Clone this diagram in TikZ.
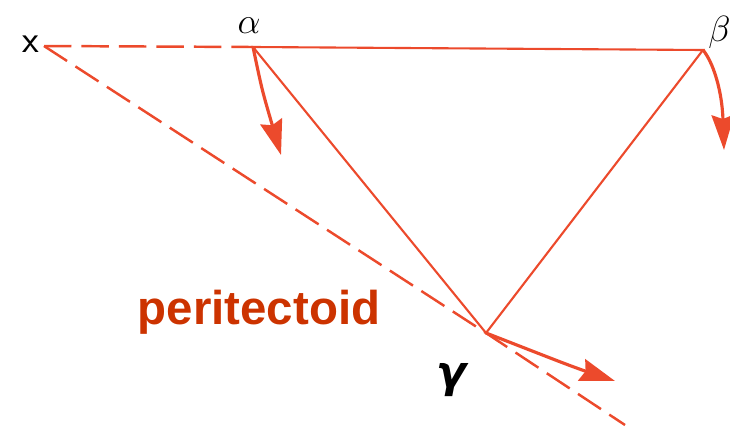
\documentclass[tikz,border=0pt]{standalone}
\usepackage{amsmath}
\usepackage{fontspec}
\newfontfamily\labelfont{Liberation Sans}
\newfontfamily\greekfont{DejaVu Sans}
\usetikzlibrary{arrows.meta}

\definecolor{phaseline}{RGB}{236,74,44}
\definecolor{tagred}{RGB}{204,51,0}

\tikzset{
  tieline/.style={draw=phaseline, line width=1.2pt},
  boundary/.style={draw=phaseline, line width=1.4pt, dash pattern=on 0.55cm off 0.2cm},
  shift arrow/.style={draw=phaseline, line width=1.8pt,
    -{Stealth[length=0.7cm, width=0.45cm, inset=0.08cm]}},
  phase/.style={inner sep=0pt, font=\fontsize{22}{26}\selectfont},
}

\begin{document}
\begin{tikzpicture}[x=0.02cm, y=-0.02cm]
  \useasboundingbox (0,0) rectangle (730,433);

  % Corners of the tie triangle
  \coordinate (x) at (44,46);
  \coordinate (alpha) at (253,47);
  \coordinate (beta) at (703,50);
  \coordinate (gamma) at (486,333);
  \coordinate (tail) at (625,425);

  % Arrow ends
  \coordinate (alphaend) at (281,155);
  \coordinate (betaend) at (724,150);
  \coordinate (gammaend) at (615,381);

  % Labels
  \node[phase] (xlab) at (31,44) {\textsf{x}};
  \node[phase] (alab) at (249,26) {$\alpha$};
  \node[phase, anchor=west] (blab) at (708,32) {$\beta$};
  \node[phase, font=\greekfont\bfseries\itshape\fontsize{25}{30}\selectfont] (glab) at (451,380) {γ};
  \node[text=tagred, font=\labelfont\bfseries\fontsize{27}{30}\selectfont]
    (tag) at (259,312) {peritectoid};

  % Lines
  \draw[boundary] (x) -- (alpha);
  \draw[boundary] (x) -- (gamma) -- (tail);
  \draw[tieline] (alpha) -- (beta) -- (gamma) -- cycle;

  % Shift of the corners
  \draw[shift arrow] (alpha) .. controls (262,90) .. (alphaend);
  \draw[shift arrow] (beta) .. controls (713,62) and (722,90) .. (betaend);
  \draw[shift arrow] (gamma) .. controls (535,352) and (570,366) .. (gammaend);
\end{tikzpicture}
\end{document}
